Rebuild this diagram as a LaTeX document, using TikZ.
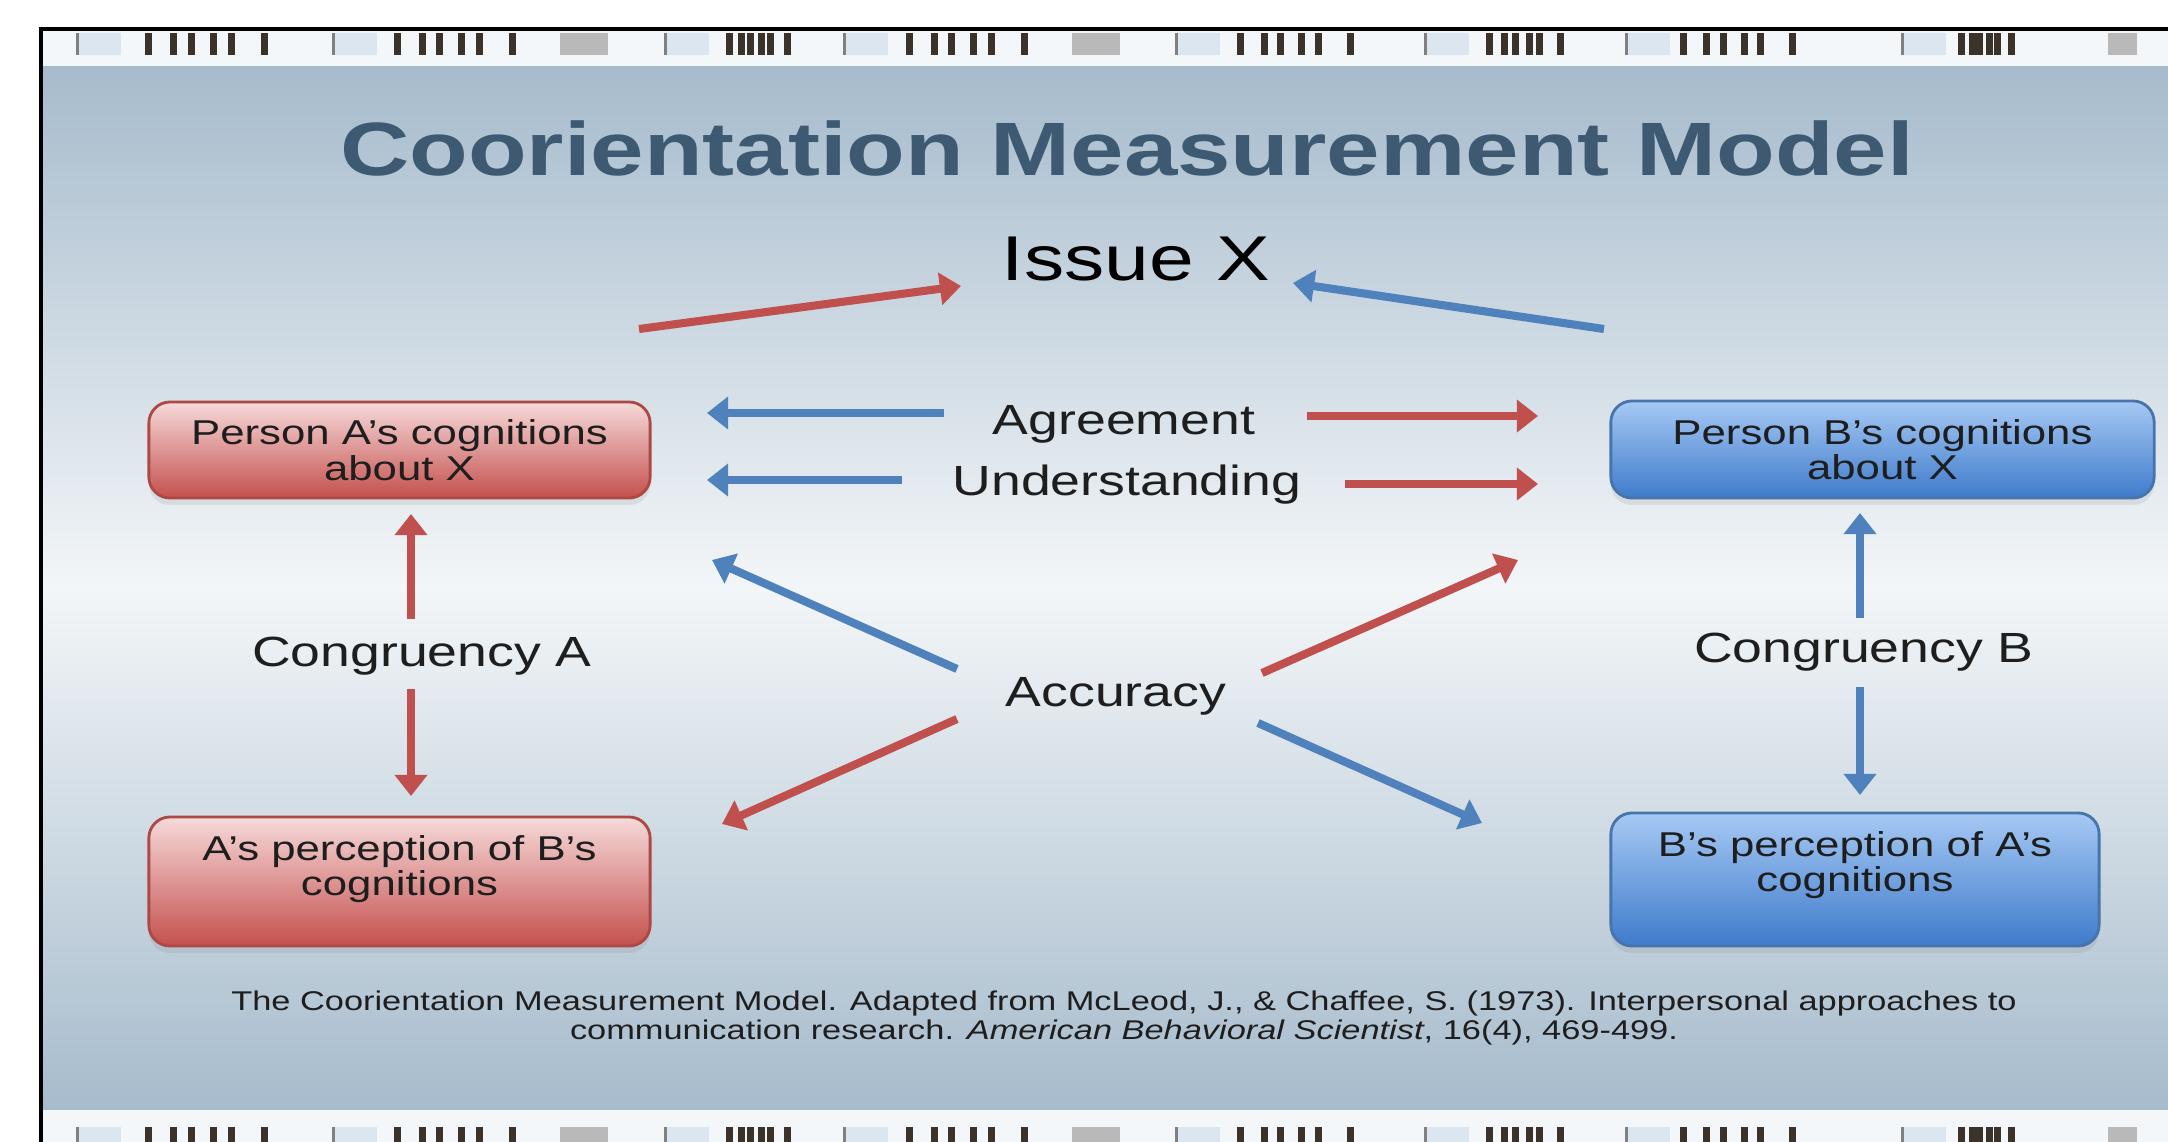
\documentclass[tikz,border=0pt]{standalone}
\usepackage{fontspec}
\setmainfont{Liberation Sans}[FakeStretch=1.27]
\usetikzlibrary{arrows.meta,shadows}

\definecolor{slideblue}{HTML}{A6BBCC}
\definecolor{slidemid}{HTML}{F3F6F8}
\definecolor{stripbg}{HTML}{F4F7FA}
\definecolor{stripblue}{HTML}{DCE6F0}
\definecolor{barbrown}{HTML}{3B3229}
\definecolor{titleblue}{HTML}{3D5A72}
\definecolor{arrred}{HTML}{C0504D}
\definecolor{arrblue}{HTML}{4F81BD}
\definecolor{boxredtop}{HTML}{F6DADA}
\definecolor{boxredbot}{HTML}{C4504D}
\definecolor{boxbluetop}{HTML}{A6C9F4}
\definecolor{boxbluebot}{HTML}{3F7BCB}
\definecolor{textgray}{HTML}{1E1E1E}

\tikzset{
  redarrow/.style={draw=arrred,line width=2.3pt,-{Triangle[width=9pt,length=6pt]}},
  bluearrow/.style={draw=arrblue,line width=2.3pt,-{Triangle[width=9pt,length=6pt]}},
  lbl/.style={font=\fontsize{12}{14}\selectfont,text=textgray},
  boxtext/.style={align=center,font=\fontsize{9.8}{8.4}\selectfont,text=textgray},
  redbox/.style={boxtext,rounded corners=6pt,draw=arrred!90!black,line width=0.8pt,
    top color=boxredtop,bottom color=boxredbot,
    drop shadow={shadow xshift=0pt,shadow yshift=-2pt,opacity=0.15}},
  bluebox/.style={boxtext,rounded corners=6pt,draw=arrblue!90!black,line width=0.8pt,
    top color=boxbluetop,bottom color=boxbluebot,
    drop shadow={shadow xshift=0pt,shadow yshift=-2pt,opacity=0.15}}
}

\begin{document}
\begin{tikzpicture}[x=0.01cm,y=-0.01cm]
\useasboundingbox (0,0) rectangle (2168,1142);
% slide and film strips
\fill[white] (0,0) rectangle (2168,1142);
\fill[top color=slideblue,bottom color=slideblue,middle color=slidemid] (41,66) rectangle (2168,1110);
\fill[stripbg] (41,29) rectangle (2168,66);
\fill[stripbg] (41,1110) rectangle (2168,1142);
\foreach \y/\h in {33/22,1127/15}{
  \foreach \x in {76,332,664,843,1175,1424,1625,1901}{
    \fill[stripblue] (\x,\y) rectangle +(45,\h);
    \fill[gray] (\x,\y) rectangle +(3,\h);}
  \foreach \a/\b in {560/608,1072/1120,2108/2137}
    \fill[gray!55] (\a,\y) rectangle (\b,\y+\h);
  \foreach \a/\b in {145/270,394/518,726/788,906/1030,1237/1355,1486/1562,1680/1797,1958/2012}
    \foreach \f in {0,0.2,0.34,0.52,0.66,0.93}
      \fill[barbrown] ({\a+\f*(\b-\a)},\y) rectangle +(7,\h);
}
\draw[line width=1pt] (41,1142) -- (41,29) -- (2168,29);

% headings
\node[font=\fontsize{21.5}{24}\selectfont\bfseries,text=titleblue] (title) at (1127,148) {Coorientation Measurement Model};
\node[font=\fontsize{18}{20}\selectfont,text=black] (issue) at (1136,259) {Issue X};

% boxes
\node[redbox,minimum width=5.01cm,minimum height=0.96cm] (acog) at (399.5,450) {Person A's cognitions\\about X};
\node[bluebox,minimum width=5.43cm,minimum height=0.97cm] (bcog) at (1882.5,449.5) {Person B's cognitions\\about X};
\node[redbox,minimum width=5.01cm,minimum height=1.29cm] (aview) at (399.5,881.5) {};
\node[boxtext] (aviewtxt) at (399.5,869) {A's perception of B's\\cognitions};
\node[bluebox,minimum width=4.88cm,minimum height=1.33cm] (bview) at (1855,879.5) {};
\node[boxtext] (bviewtxt) at (1855,865) {B's perception of A's\\cognitions};

% labels
\node[lbl] (agree) at (1124,424) {Agreement};
\node[lbl] (under) at (1127,485) {Understanding};
\node[lbl] (conga) at (422,656) {Congruency A};
\node[lbl] (congb) at (1864,652) {Congruency B};
\node[lbl] (accur) at (1116,696) {Accuracy};

% arrow ends
\coordinate (ia1) at (639,329);   \coordinate (ia2) at (961,286);
\coordinate (ib1) at (1604,329);  \coordinate (ib2) at (1293,283);
\coordinate (ag1) at (944,413);   \coordinate (ag2) at (707,413);
\coordinate (ag3) at (1307,416);  \coordinate (ag4) at (1538,416);
\coordinate (un1) at (902,480);   \coordinate (un2) at (707,480);
\coordinate (un3) at (1345,484);  \coordinate (un4) at (1538,484);
\coordinate (ca1) at (411,619);   \coordinate (ca2) at (411,514);
\coordinate (ca3) at (411,689);   \coordinate (ca4) at (411,796);
\coordinate (cb1) at (1860,618);  \coordinate (cb2) at (1860,513);
\coordinate (cb3) at (1860,687);  \coordinate (cb4) at (1860,795);
\coordinate (ac1) at (957,669);   \coordinate (ac2) at (712,560);
\coordinate (ac3) at (1262,673);  \coordinate (ac4) at (1518,560);
\coordinate (ac5) at (957,719);   \coordinate (ac6) at (722,824);
\coordinate (ac7) at (1258,723);  \coordinate (ac8) at (1482,823);

\draw[redarrow] (ia1) -- (ia2);
\draw[bluearrow] (ib1) -- (ib2);
\draw[bluearrow] (ag1) -- (ag2);
\draw[redarrow] (ag3) -- (ag4);
\draw[bluearrow] (un1) -- (un2);
\draw[redarrow] (un3) -- (un4);
\draw[redarrow] (ca1) -- (ca2);
\draw[redarrow] (ca3) -- (ca4);
\draw[bluearrow] (cb1) -- (cb2);
\draw[bluearrow] (cb3) -- (cb4);
\draw[bluearrow] (ac1) -- (ac2);
\draw[redarrow] (ac3) -- (ac4);
\draw[redarrow] (ac5) -- (ac6);
\draw[bluearrow] (ac7) -- (ac8);

% source
\node[align=center,font=\fontsize{7.7}{7}\selectfont,text=textgray] (source) at (1124,1018)
  {The Coorientation Measurement Model. Adapted from McLeod, J., \& Chaffee, S. (1973). Interpersonal approaches to\\
   communication research. \textit{American Behavioral Scientist}, 16(4), 469-499.};
\end{tikzpicture}
\end{document}
